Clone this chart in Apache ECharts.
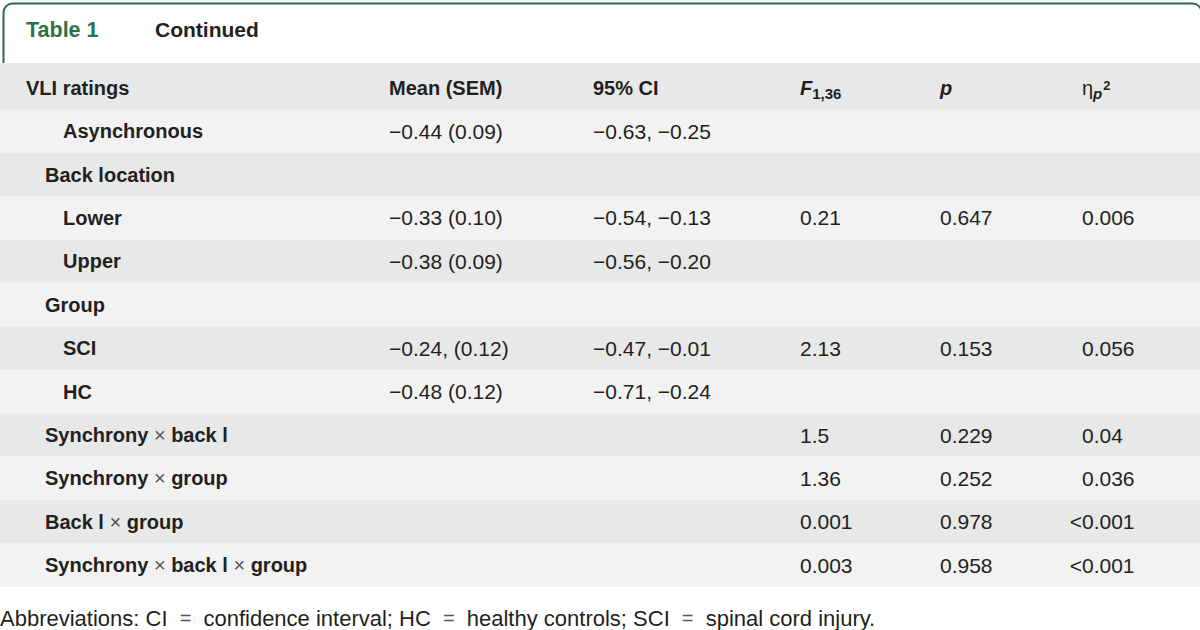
<!DOCTYPE html>
<html>
<head>
<meta charset="utf-8">
<script src="https://cdn.jsdelivr.net/npm/echarts@6/dist/echarts.min.js"></script>
<style>
html,body{margin:0;padding:0;background:#ffffff;}
#chart{width:1200px;height:630px;}
</style>
</head>
<body>
<div id="chart"></div>
<script>
// ---------- data ----------
const tableNumber = 'Table 1';
const tableTitle = 'Continued';
const columnHeaders = ['VLI ratings', 'Mean (SEM)', '95% CI', 'F1,36', 'p', 'ηp2'];
const rowLabels = ['Asynchronous', 'Back location', 'Lower', 'Upper', 'Group', 'SCI', 'HC',
  'Synchrony × back l', 'Synchrony × group', 'Back l × group', 'Synchrony × back l × group'];
const rowLevels = [2, 1, 2, 2, 1, 2, 2, 1, 1, 1, 1];
const meanSem = ['−0.44 (0.09)', '', '−0.33 (0.10)', '−0.38 (0.09)', '', '−0.24, (0.12)', '−0.48 (0.12)', '', '', '', ''];
const ci95 = ['−0.63, −0.25', '', '−0.54, −0.13', '−0.56, −0.20', '', '−0.47, −0.01', '−0.71, −0.24', '', '', '', ''];
const fValues = ['', '', '0.21', '', '', '2.13', '', '1.5', '1.36', '0.001', '0.003'];
const pValues = ['', '', '0.647', '', '', '0.153', '', '0.229', '0.252', '0.978', '0.958'];
const etaValues = ['', '', '0.006', '', '', '0.056', '', '0.04', '0.036', '<0.001', '<0.001'];
const footnote = 'Abbreviations: CI = confidence interval; HC = healthy controls; SCI = spinal cord injury.';

// ---------- layout / style ----------
const FONT = '"Liberation Sans", Arial, sans-serif';
const TEXT = '#231f20';
const GREEN = '#2c6b47';
const DARK_ROW = '#e7e8e8';
const LIGHT_ROW = '#f2f2f2';
const LABEL_X = [26, 45, 63];
const COL_X = [26, 389, 593, 800, 940, 1082];
const COL_REF_PREFIX = [null, '−0', '−0', '0', '0', '0'];
const VALUE_SIZE = 21;
const LABEL_SIZE = 20;

const measureCtx = document.createElement('canvas').getContext('2d');
function textWidth(s, size, weight) {
  measureCtx.font = (weight || 'normal') + ' ' + size + 'px ' + FONT;
  return measureCtx.measureText(s).width;
}

const rowNames = ['header'].concat(rowLabels);
const valueColumns = [meanSem, ci95, fValues, pValues, etaValues];

// build cells: [col, row]
const cellData = [];
const cellText = [];
columnHeaders.forEach(function (h, c) { cellData.push([c, 0]); cellText.push(h); });
rowLabels.forEach(function (lab, r) {
  cellData.push([0, r + 1]); cellText.push(lab);
  valueColumns.forEach(function (col, k) {
    if (col[r] !== '') { cellData.push([k + 1, r + 1]); cellText.push(col[r]); }
  });
});

const headerRich = {
  hb: { fontFamily: FONT, fontSize: LABEL_SIZE, fontWeight: 'bold', fill: TEXT, lineHeight: 20, verticalAlign: 'top' },
  fi: { fontFamily: FONT, fontSize: LABEL_SIZE, fontWeight: 'bold', fontStyle: 'italic', fill: TEXT, lineHeight: 20, verticalAlign: 'top' },
  sub: { fontFamily: FONT, fontSize: 15, fontWeight: 'bold', fill: TEXT, lineHeight: 15, padding: [8, 0, 0, 0], verticalAlign: 'top' },
  eta: { fontFamily: FONT, fontSize: LABEL_SIZE, fontWeight: 'normal', fill: TEXT, lineHeight: 20, verticalAlign: 'top' },
  psub: { fontFamily: FONT, fontSize: 15, fontWeight: 'bold', fontStyle: 'italic', fill: TEXT, lineHeight: 15, padding: [8, 0, 0, 0], verticalAlign: 'top' },
  sup: { fontFamily: FONT, fontSize: 13, fontWeight: 'bold', fill: TEXT, lineHeight: 13, padding: [1, 0, 0, 1], verticalAlign: 'top' }
};
const labelRich = {
  x: { fontFamily: FONT, fontSize: LABEL_SIZE, fontWeight: 'normal', fill: '#555' }
};

function headerText(c, t) {
  if (c === 3) return '{fi|F}{sub|' + t.slice(1) + '}';
  if (c === 4) return '{fi|' + t + '}';
  if (c === 5) return '{eta|η}{psub|p}{sup|2}';
  return '{hb|' + t + '}';
}

const chart = echarts.init(document.getElementById('chart'), null, { renderer: 'svg' });

chart.setOption({
  backgroundColor: '#ffffff',
  animation: false,
  title: [
    { text: tableNumber, left: 26, top: 19, padding: 0,
      textStyle: { fontFamily: FONT, fontSize: 21.5, fontWeight: 'bold', color: '#2f7049', lineHeight: 21 } },
    { text: tableTitle, left: 155, top: 19, padding: 0,
      textStyle: { fontFamily: FONT, fontSize: 21, fontWeight: 'bold', color: TEXT, lineHeight: 21 } },
    { text: footnote.replace(/ = /g, ' {eq|=} '), left: 0, top: 607, padding: 0,
      textStyle: { fontFamily: FONT, fontSize: 22, fontWeight: 'normal', color: TEXT, lineHeight: 22,
        rich: { eq: { fontFamily: FONT, fontSize: 20, color: '#555', padding: [0, 6, 0, 6] } } } }
  ],
  graphic: [
    { type: 'rect', silent: true, z: 0, left: 1, top: 1,
      shape: { width: 1198, height: 80, r: [9, 9, 0, 0] },
      style: { fill: 'none', stroke: GREEN, lineWidth: 2 } }
  ],
  grid: { left: 0, right: 0, top: 66, bottom: 43, containLabel: false },
  xAxis: { type: 'value', min: 0, max: 1200, show: false },
  yAxis: { type: 'category', data: rowNames, inverse: true, show: false, boundaryGap: true },
  series: [
    {
      type: 'custom', name: 'rows', silent: true, z: 5,
      data: rowNames.map(function (n, i) { return [0, i]; }),
      renderItem: function (params, api) {
        const r = api.value(1);
        const p = api.coord([0, r]);
        const h = api.size([0, 1])[1];
        const extra = r === 0 ? 3 : 0;
        return {
          type: 'rect',
          shape: { x: p[0], y: p[1] - h / 2 - extra, width: 1200, height: h + extra },
          style: { fill: r % 2 === 0 ? DARK_ROW : LIGHT_ROW }
        };
      }
    },
    {
      type: 'custom', name: 'cells', silent: true, z: 6,
      data: cellData,
      renderItem: function (params, api) {
        const c = api.value(0);
        const r = api.value(1);
        const t = cellText[params.dataIndex];
        let anchorX, str, rich, font;
        if (r === 0) {
          anchorX = COL_X[c];
          str = headerText(c, t);
          rich = headerRich;
          font = 'bold ' + LABEL_SIZE + 'px ' + FONT;
        } else if (c === 0) {
          anchorX = LABEL_X[rowLevels[r - 1]];
          str = t.replace(/×/g, '{x|×}');
          rich = labelRich;
          font = 'bold ' + LABEL_SIZE + 'px ' + FONT;
        } else {
          const prefix = t.slice(0, t.indexOf('.'));
          anchorX = COL_X[c] + textWidth(COL_REF_PREFIX[c], VALUE_SIZE) - textWidth(prefix, VALUE_SIZE);
          str = t;
          rich = null;
          font = 'normal ' + VALUE_SIZE + 'px ' + FONT;
        }
        const p = api.coord([anchorX, r]);
        const style = {
          text: str, x: p[0], y: p[1], font: font, fill: TEXT,
          textAlign: 'left', textVerticalAlign: 'middle', align: 'left', verticalAlign: 'middle'
        };
        if (rich) style.rich = rich;
        return { type: 'text', style: style };
      }
    }
  ]
});
</script>
</body>
</html>
